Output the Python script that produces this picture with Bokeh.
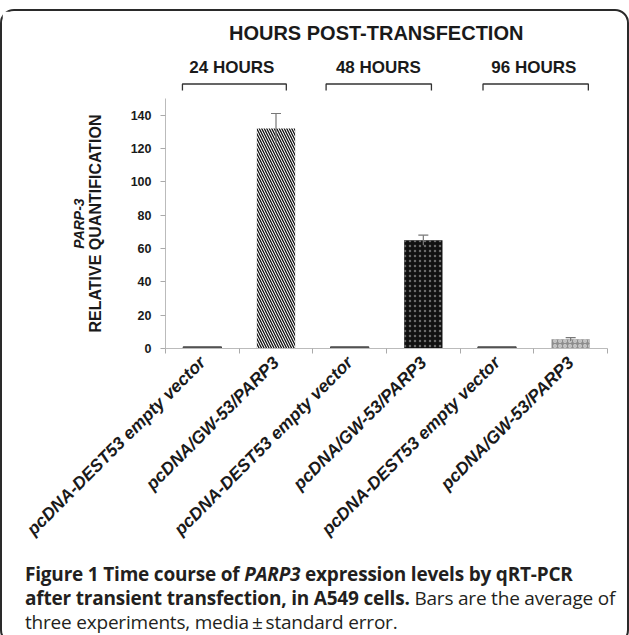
import math
from bokeh.plotting import figure
from bokeh.models import (ColumnDataSource, FixedTicker, LinearAxis, Range1d, Label,
                          Whisker, TeeHead, Div, Column)
from bokeh.embed import file_html
from bokeh.resources import INLINE

# ---------------- data ----------------
categories = ["pcDNA-DEST53 empty vector", "pcDNA/GW-53/PARP3",
              "pcDNA-DEST53 empty vector", "pcDNA/GW-53/PARP3",
              "pcDNA-DEST53 empty vector", "pcDNA/GW-53/PARP3"]
values = [1.0, 132.0, 1.0, 65.0, 1.0, 5.5]
errors = [0.0, 9.0, 0.0, 3.0, 0.0, 1.0]
groups = ["24 HOURS", "48 HOURS", "96 HOURS"]
y_ticks = [0, 20, 40, 60, 80, 100, 120, 140]

# styles per bar
fills = ["#5a5a5a", "#ffffff", "#5a5a5a", "#111111", "#5a5a5a", "#8c8c8c"]
lines = ["#444444", None, "#444444", None, "#444444", None]
hatches = [" ", "\\", " ", ".", " ", "o"]
hatch_colors = ["#000000", "#111111", "#000000", "#6a6a6a", "#000000", "#cfcfcf"]

FONT = "Liberation Sans"
LEFT = 163
RIGHT = 10
FW = 442

centers = [i + 0.5 for i in range(len(categories))]
xr = Range1d(0, 6)

# ---------------- header figure ----------------
HDR_H = 87
hdr = figure(frame_width=FW, frame_height=HDR_H, output_backend="svg", toolbar_location=None,
             x_range=xr, y_range=Range1d(0, HDR_H),
             x_axis_location=None, y_axis_location=None,
             min_border_left=LEFT, min_border_right=RIGHT, min_border_top=0,
             min_border_bottom=0, outline_line_color=None)
hdr.grid.visible = False

hdr.add_layout(Label(x=2.86, y=66, text="HOURS POST-TRANSFECTION", text_align="center",
                     text_baseline="middle", text_font=FONT, text_font_style="bold",
                     text_font_size="20px", text_color="#1a1a1a"))
group_label_x = [0.90, 2.89, 5.0]
bracket_x = [(0.23, 1.64), (2.18, 3.61), (4.31, 5.74)]
for g, gx in zip(groups, group_label_x):
    hdr.add_layout(Label(x=gx, y=31, text=g, text_align="center", text_baseline="middle",
                         text_font=FONT, text_font_style="bold", text_font_size="17px",
                         text_color="#1a1a1a"))
hdr.multi_line(xs=[[a, a, b, b] for a, b in bracket_x],
               ys=[[8, 14.5, 14.5, 8] for _ in bracket_x],
               line_color="#333333", line_width=1.3)

# ---------------- main figure ----------------
src = ColumnDataSource(dict(x=centers, top=values, fill=fills, line=lines,
                            hatch=hatches, hcol=hatch_colors))
p = figure(frame_width=FW, frame_height=250, output_backend="svg", toolbar_location=None,
           x_range=xr, y_range=Range1d(0, 150),
           min_border_left=LEFT, min_border_right=RIGHT, min_border_top=0,
           min_border_bottom=200, outline_line_color=None)
p.grid.visible = False

p.vbar(x="x", top="top", bottom=0, width=0.52, source=src, fill_color="fill",
       line_color="line", line_width=1, hatch_pattern="hatch", hatch_color="hcol",
       hatch_scale=5, hatch_weight=1.3)

err_idx = [i for i, e in enumerate(errors) if e > 0]
wsrc = ColumnDataSource(dict(x=[centers[i] for i in err_idx],
                             upper=[values[i] + errors[i] for i in err_idx],
                             lower=[values[i] - errors[i] for i in err_idx]))
p.add_layout(Whisker(source=wsrc, base="x", upper="upper", lower="lower",
                     line_color="#777777", line_width=1.2, level="annotation",
                     upper_head=TeeHead(size=10, line_color="#777777", line_width=1.2),
                     lower_head=None))

# x axis
xa = p.xaxis[0]
xa.ticker = FixedTicker(ticks=centers, minor_ticks=list(range(0, 7)))
xa.major_label_overrides = {c: n for c, n in zip(centers, categories)}
xa.major_label_orientation = math.pi / 4
xa.major_tick_line_color = None
xa.minor_tick_line_color = "#aaaaaa"
xa.minor_tick_in = 0
xa.minor_tick_out = 5
xa.axis_line_color = "#bbbbbb"
xa.major_label_text_font = FONT
xa.major_label_text_font_style = "bold italic"
xa.major_label_text_font_size = "17.5px"
xa.major_label_text_color = "#1a1a1a"
xa.major_label_standoff = 5

# y axis
ya = p.yaxis[0]
ya.ticker = FixedTicker(ticks=y_ticks)
ya.minor_tick_line_color = None
ya.major_tick_line_color = "#aaaaaa"
ya.major_tick_in = 0
ya.major_tick_out = 5
ya.axis_line_color = "#bbbbbb"
ya.major_label_text_font = FONT
ya.major_label_text_font_style = "bold"
ya.major_label_text_font_size = "12.5px"
ya.major_label_text_color = "#1a1a1a"
ya.major_label_standoff = 9
ya.axis_label = "RELATIVE QUANTIFICATION"
ya.axis_label_text_font = FONT
ya.axis_label_text_font_style = "bold"
ya.axis_label_text_font_size = "16px"
ya.axis_label_text_color = "#1a1a1a"
ya.axis_label_standoff = 24

ya2 = LinearAxis(ticker=FixedTicker(ticks=[]), axis_line_color=None,
                 major_tick_line_color=None, minor_tick_line_color=None,
                 major_label_text_font_size="0px", major_label_standoff=0,
                 major_tick_out=0, major_tick_in=0,
                 axis_label="PARP-3", axis_label_text_font=FONT,
                 axis_label_text_font_style="bold italic", axis_label_text_font_size="14px",
                 axis_label_text_color="#1a1a1a", axis_label_standoff=-3)
p.add_layout(ya2, "left")

# ---------------- caption ----------------
caption = Div(width=LEFT + FW + RIGHT, height=83, text=(
    '<div style="font-family:\'Open Sans\';font-size:19px;line-height:24px;color:#231f20;'
    'padding:8px 0 0 18px;white-space:nowrap;letter-spacing:-0.2px">'
    '<b>Figure 1 Time course of <i>PARP3</i> expression levels by qRT-PCR</b><br>'
    '<b>after transient transfection, in A549 cells.</b> Bars are the average of<br>'
    'three experiments, media\u2009\u00b1\u2009standard error.</div>'))

layout = Column(children=[hdr, p, caption], spacing=0,
                styles={"border": "2px solid #2a2a2a", "border-radius": "14px",
                        "margin-top": "9px", "background": "white"})

open("out.html", "w").write(file_html(layout, INLINE))
